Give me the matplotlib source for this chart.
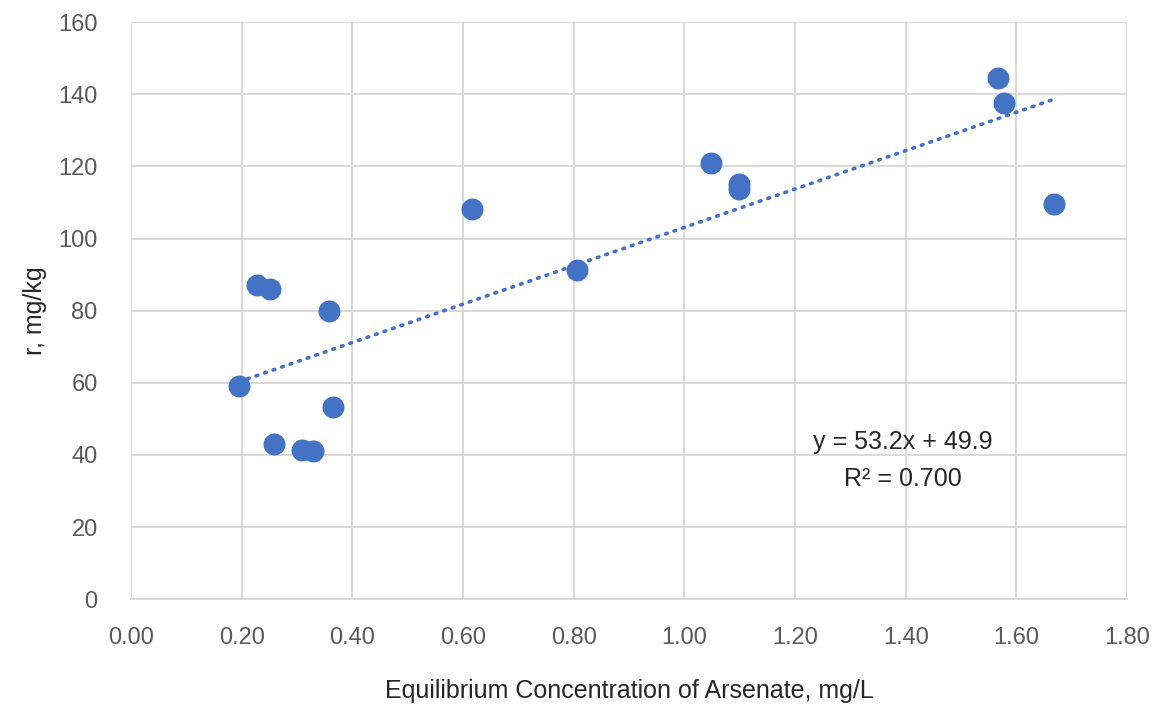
import matplotlib.pyplot as plt
import numpy as np

# data
conc = [0.195, 0.227, 0.251, 0.259, 0.309, 0.328, 0.357, 0.365,
        0.616, 0.805, 1.048, 1.098, 1.098, 1.567, 1.577, 1.668]
r = [59.1, 87.1, 85.9, 43.0, 41.3, 41.0, 79.9, 53.3,
     108.3, 91.2, 121.0, 115.1, 113.7, 144.6, 137.5, 109.5]
slope = 53.2
intercept = 49.9
r2 = 0.700

blue = '#4472C4'
grey = '#595959'
plt.rcParams['font.family'] = ['Liberation Sans Narrow', 'Liberation Sans', 'DejaVu Sans']

fig = plt.figure(figsize=(11.6, 7.15), dpi=100)
ax = fig.add_axes([0.113, 0.162, 0.8586, 0.807])

ax.scatter(conc, r, s=250, color=blue, zorder=3, linewidths=0)
xt = np.array([min(conc), max(conc)])
ax.plot(xt, slope*xt + intercept, color=blue, lw=2.6, linestyle=(0, (0.5, 2.0)),
        dash_capstyle='round', zorder=2)

ax.set_xlim(0, 1.8)
ax.set_ylim(0, 160)
ax.set_xticks(np.arange(0, 1.81, 0.2))
ax.set_xticklabels(['%.2f' % v for v in np.arange(0, 1.81, 0.2)])
ax.set_yticks(range(0, 161, 20))
ax.grid(True, color='#D9D9D9', lw=1.4)
ax.set_axisbelow(True)
for s in ['top', 'right', 'left']:
    ax.spines[s].set_visible(False)
ax.spines['bottom'].set_color('#D9D9D9')
ax.spines['bottom'].set_linewidth(1.4)
ax.tick_params(length=0, labelsize=17, colors=grey)
ax.tick_params(axis='x', pad=20)
ax.tick_params(axis='y', pad=24)

ax.set_xlabel('Equilibrium Concentration of Arsenate, mg/L', fontsize=18,
              color='#262626')
ax.xaxis.set_label_coords(0.5, -0.139)
ax.set_ylabel('r, mg/kg', fontsize=18, color='#262626')
ax.yaxis.set_label_coords(-0.084, 0.5)

ax.text(1.395, 38.5, 'y = %.1fx + %.1f\nR² = %.3f' % (slope, intercept, r2),
        fontsize=18, color='#262626', ha='center', va='center',
        multialignment='center', linespacing=1.7)

plt.savefig('out.png', dpi=100)
plt.close()
